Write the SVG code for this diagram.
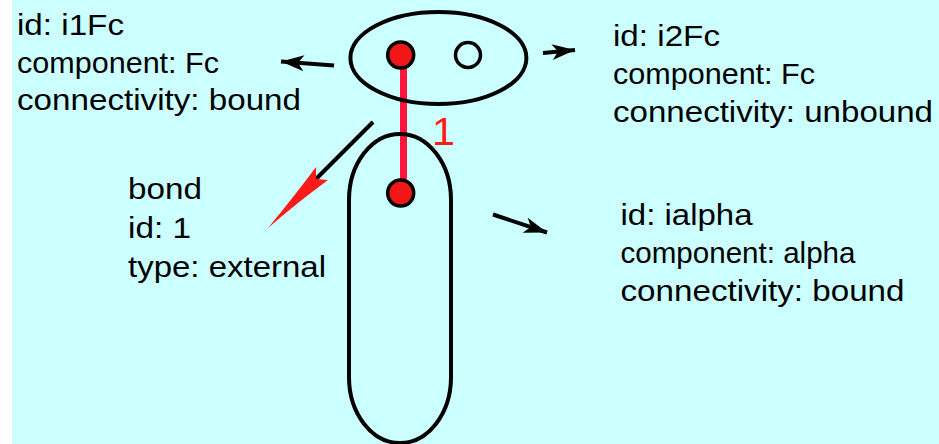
<svg xmlns="http://www.w3.org/2000/svg" width="939" height="444" viewBox="0 0 939 444">
<defs>
<style>
.lbl{font-family:"Liberation Sans",Arial,sans-serif;font-size:29.5px;fill:#000}
.shape{fill:none;stroke:#000;stroke-width:4}
.site{fill:#F21616;stroke:#000;stroke-width:3.5}
.open{fill:none;stroke:#000;stroke-width:3.5}
.arrow{fill:none;stroke:#000;stroke-width:4}
</style>
<marker id="ah" markerUnits="userSpaceOnUse" markerWidth="30" markerHeight="20" viewBox="-24 -10 26 20" refX="0" refY="0" orient="auto">
<path d="M0,0 L-23,-8 L-17,0 L-23,8 Z" fill="#000"/>
</marker>
</defs>
<rect x="0" y="0" width="939" height="444" fill="#fff"/>
<rect x="12" y="0" width="927" height="444" fill="#CCFFFF"/>
<g id="connectors">
<line x1="403.5" y1="58" x2="403.5" y2="179" stroke="#FF143C" stroke-width="7"/>
<line class="arrow" x1="334" y1="65.5" x2="281" y2="61.5" marker-end="url(#ah)"/>
<line class="arrow" x1="543" y1="53" x2="575" y2="50" marker-end="url(#ah)"/>
<line class="arrow" x1="493" y1="214.5" x2="547" y2="232.5" marker-end="url(#ah)"/>
<line class="arrow" x1="373" y1="122" x2="314" y2="181"/>
<path d="M268,228 Q296,194 316,167 L316,179 L328,180 Q298,202 268,228 Z" fill="#FF1A1A"/>
</g>
<g id="node-Fc">
<ellipse class="shape" cx="438.4" cy="58" rx="88" ry="46"/>
</g>
<g id="node-alpha">
<path class="shape" d="M349,200 A51,66 0 0 1 451,200 L451,377 A51,66 0 0 1 349,377 Z"/>
</g>
<g id="node-i1Fc-site">
<circle class="site" cx="400.7" cy="55" r="13"/>
</g>
<g id="node-i2Fc-site">
<circle class="open" cx="468" cy="55" r="12.5"/>
</g>
<g id="node-ialpha-site">
<circle class="site" cx="400.7" cy="193" r="13"/>
</g>
<g id="bond-label">
<text x="432" y="145" font-family="Liberation Sans,Arial,sans-serif" font-size="39" fill="#FF1A1A" textLength="23" lengthAdjust="spacingAndGlyphs">1</text>
</g>
<g id="label-i1Fc">
<text class="lbl" x="17" y="35" textLength="107" lengthAdjust="spacingAndGlyphs">id: i1Fc</text>
<text class="lbl" x="17" y="72.5" textLength="202" lengthAdjust="spacingAndGlyphs">component: Fc</text>
<text class="lbl" x="17" y="110" textLength="284" lengthAdjust="spacingAndGlyphs">connectivity: bound</text>
</g>
<g id="label-i2Fc">
<text class="lbl" x="613" y="46" textLength="107" lengthAdjust="spacingAndGlyphs">id: i2Fc</text>
<text class="lbl" x="613" y="84" textLength="202" lengthAdjust="spacingAndGlyphs">component: Fc</text>
<text class="lbl" x="613" y="121.5" textLength="320" lengthAdjust="spacingAndGlyphs">connectivity: unbound</text>
</g>
<g id="label-ialpha">
<text class="lbl" x="620.5" y="225" textLength="132" lengthAdjust="spacingAndGlyphs">id: ialpha</text>
<text class="lbl" x="620.5" y="263" textLength="235" lengthAdjust="spacingAndGlyphs">component: alpha</text>
<text class="lbl" x="620.5" y="301" textLength="284" lengthAdjust="spacingAndGlyphs">connectivity: bound</text>
</g>
<g id="label-bond">
<text class="lbl" x="128" y="199" textLength="74" lengthAdjust="spacingAndGlyphs">bond</text>
<text class="lbl" x="128" y="238" textLength="63" lengthAdjust="spacingAndGlyphs">id: 1</text>
<text class="lbl" x="128" y="277" textLength="198" lengthAdjust="spacingAndGlyphs">type: external</text>
</g>
</svg>
